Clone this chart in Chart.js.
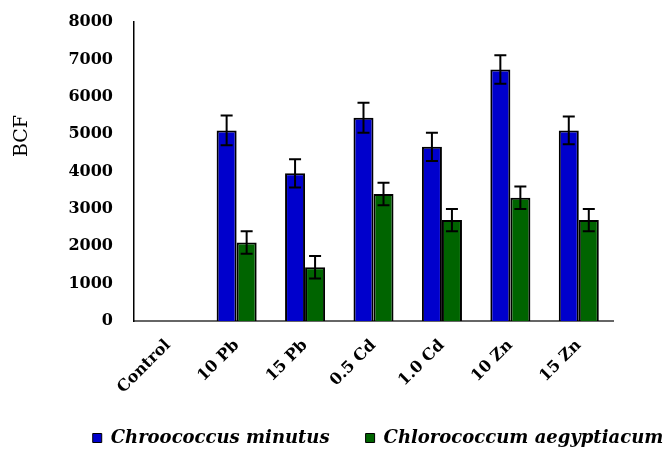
<!DOCTYPE html>
<html>
<head>
<meta charset="utf-8">
<script src="https://cdn.jsdelivr.net/npm/chart.js@4"></script>
<style>
html,body{margin:0;padding:0;background:#fff;}
#wrap{width:664px;height:450px;position:relative;}
</style>
</head>
<body>
<div id="wrap"><canvas id="c" width="664" height="450"></canvas></div>
<script>
const categories = ['Control', '10 Pb', '15 Pb', '0.5 Cd', '1.0 Cd', '10 Zn', '15 Zn'];
const chroococcus = [0, 5100, 3950, 5440, 4660, 6730, 5100];
const chroococcusErr = [0, 400, 380, 400, 380, 380, 370];
const chlorococcum = [0, 2100, 1440, 3400, 2700, 3300, 2700];
const chlorococcumErr = [0, 300, 300, 300, 300, 300, 300];
const yTicks = [0, 1000, 2000, 3000, 4000, 5000, 6000, 7000, 8000];

const FONT = "'DejaVu Serif', 'Liberation Serif', serif";

const errorBars = {
  id: 'errorBars',
  afterDatasetsDraw(chart) {
    const ctx = chart.ctx;
    const y = chart.scales.y;
    chart.data.datasets.forEach((ds, di) => {
      const meta = chart.getDatasetMeta(di);
      meta.data.forEach((el, i) => {
        const v = ds.data[i], e = ds.errors[i];
        if (!e) return;
        const yt = y.getPixelForValue(v + e), yb = y.getPixelForValue(v - e);
        const cap = 6;
        ctx.save();
        ctx.strokeStyle = '#000';
        ctx.lineWidth = 2;
        ctx.beginPath();
        ctx.moveTo(el.x, yt); ctx.lineTo(el.x, yb);
        ctx.moveTo(el.x - cap, yt); ctx.lineTo(el.x + cap, yt);
        ctx.moveTo(el.x - cap, yb); ctx.lineTo(el.x + cap, yb);
        ctx.stroke();
        ctx.restore();
      });
    });
  }
};

const yTitle = {
  id: 'yTitle',
  afterDraw(chart) {
    const ctx = chart.ctx;
    ctx.save();
    ctx.translate(22, 136);
    ctx.rotate(-Math.PI / 2);
    ctx.font = "19px " + FONT;
    ctx.fillStyle = '#000';
    ctx.textAlign = 'center';
    ctx.textBaseline = 'middle';
    ctx.fillText('BCF', 0, 0);
    ctx.restore();
  }
};

new Chart(document.getElementById('c'), {
  type: 'bar',
  data: {
    labels: categories,
    datasets: [
      { label: 'Chroococcus minutus', data: chroococcus, errors: chroococcusErr,
        backgroundColor: '#0000CC', borderColor: '#000', borderWidth: 2 },
      { label: 'Chlorococcum aegyptiacum', data: chlorococcum, errors: chlorococcumErr,
        backgroundColor: '#006400', borderColor: '#000', borderWidth: 2 }
    ]
  },
  options: {
    responsive: false,
    animation: false,
    devicePixelRatio: 1,
    layout: { padding: { left: 0, top: 22, right: -92, bottom: -7 } },
    datasets: { bar: { categoryPercentage: 0.585, barPercentage: 1.0 } },
    plugins: {
      tooltip: { enabled: false },
      legend: {
        position: 'bottom',
        labels: {
          boxWidth: 9, boxHeight: 9, padding: 36, color: '#000',
          font: { family: FONT, size: 18, weight: 'bold', style: 'italic' },
          generateLabels: (chart) => Chart.defaults.plugins.legend.labels.generateLabels(chart).map(l => Object.assign(l, { lineWidth: 1 }))
        }
      }
    },
    scales: {
      x: {
        grid: { display: false, drawTicks: false },
        border: { display: true, color: '#666', width: 2 },
        ticks: { color: '#000', maxRotation: 45, minRotation: 45, padding: 15,
                 font: { family: FONT, size: 16, weight: 'bold' } },
        afterFit: (s) => { s.height = 72; s.paddingLeft = 0; s.paddingRight = 0; }
      },
      y: {
        min: 0, max: 8000,
        afterBuildTicks: (s) => { s.ticks = yTicks.map(v => ({ value: v })); },
        grid: { display: false, drawTicks: false },
        border: { display: true, color: '#000', width: 1.5 },
        ticks: { color: '#000', padding: 21, font: { family: FONT, size: 16, weight: 'bold' },
                 callback: (v) => String(v) },
        afterFit: (s) => { s.width = 134; s.paddingTop = 0; s.paddingBottom = 0; }
      },
      y2: {
        position: 'right',
        display: true,
        grid: { display: false, drawTicks: false },
        border: { display: false },
        ticks: { display: false },
        afterFit: (s) => { s.width = 143; }
      }
    }
  },
  plugins: [errorBars, yTitle]
});
</script>
</body>
</html>
